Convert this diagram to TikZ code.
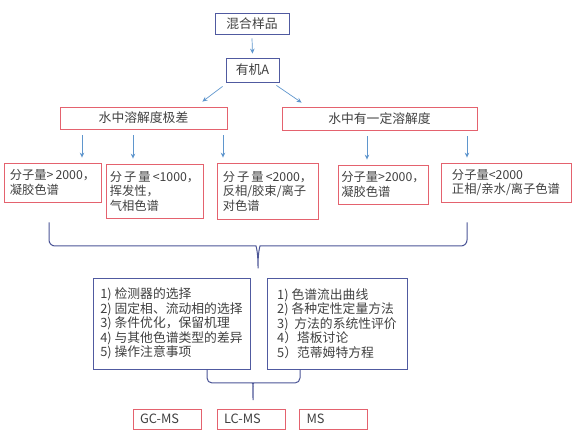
\documentclass[tikz,border=0pt]{standalone}
\usepackage{fontspec}
\newfontfamily\cjk{Noto Sans CJK SC}
\usetikzlibrary{arrows.meta}

\definecolor{boxblue}{RGB}{80,90,160}
\definecolor{boxred}{RGB}{228,98,110}
\definecolor{arrowblue}{RGB}{95,150,205}
\definecolor{bracecol}{RGB}{75,85,150}
\definecolor{txtgray}{RGB}{64,64,64}

\tikzset{
  basebox/.style={draw, line width=0.8pt, text=txtgray, inner sep=0pt, align=left,
    font=\cjk\fontsize{12.8}{14.5}\selectfont},
  bluebox/.style={basebox, draw=boxblue},
  redbox/.style={basebox, draw=boxred},
  smallred/.style={redbox, font=\cjk\fontsize{12.3}{14.5}\selectfont},
  boxsize/.style 2 args={minimum width=#1pt, minimum height=#2pt},
  tagbox/.style={redbox, text width=54pt, inner xsep=7pt, minimum height=20pt},
  flow/.style={-{Stealth[length=5pt,width=4.5pt]}, draw=arrowblue, line width=0.7pt},
  brace/.style={draw=bracecol, line width=1pt},
}

\begin{document}
\begin{tikzpicture}[x=1pt,y=-1pt]
\useasboundingbox (0,0) rectangle (582,438);

% Top of the tree
\node[bluebox, boxsize={74}{21}] (mix) at (252,23.5) {混合样品};
\node[bluebox, boxsize={53}{24}] (orgA) at (252.5,70) {有机A};
\node[redbox, boxsize={167}{22}] (poor) at (143.5,118) {水中溶解度极差};
\node[redbox, boxsize={195}{23}] (some) at (379.5,118.5) {水中有一定溶解度};

\draw[flow] ([yshift=-4pt]mix.south) -- ([yshift=4pt]orgA.north);
\draw[flow] ([shift={(-3pt,-4pt)}]orgA.south west) -- ([shift={(-25pt,5pt)}]poor.north east);
\draw[flow] ([shift={(-3pt,-3pt)}]orgA.south east) -- ([shift={(20pt,4pt)}]some.north west);

% Methods by molecular weight
\node[smallred, boxsize={97}{39}] (a) at (52.5,182.5) {分子量>\,2000，\\凝胶色谱};
\node[smallred, boxsize={97}{54}] (b) at (154.5,191) {分\,子\,量\,<1000，\\挥发性，\\气相色谱};
\node[smallred, boxsize={101}{56}] (c) at (267.5,191) {分\,子\,量\,<2000，\\反相/胶束/离子\\对色谱};
\node[smallred, boxsize={90}{39}] (d) at (383,184.5) {分子量>2000，\\凝胶色谱};
\node[smallred, boxsize={130}{39}] (e) at (506,182.5) {分子量<2000\\正相/亲水/离子色谱};

\foreach \src/\dst/\x in {poor/a/82, poor/b/133, poor/c/223, some/d/367, some/e/467}
  \draw[flow] ([yshift=-6pt]\src.south -| \x,0) -- ([yshift=5pt]\dst.north -| \x,0);

% Common topics
\node[bluebox, boxsize={157}{91}] (L) at (171.5,323.5)
  {1) 检测器的选择\\2) 固定相、流动相的选择\\3) 条件优化，保留机理\\4) 与其他色谱类型的差异\\5) 操作注意事项};
\node[bluebox, boxsize={140}{91}] (R) at (337,323.5)
  {1) 色谱流出曲线\\2) 各种定性定量方法\\3)\ \ 方法的系统性评价\\4）塔板讨论\\5）范蒂姆特方程};

\draw[brace, rounded corners=6pt] ([yshift=-20pt]a.south -| 49,0) -- (49,246) -- (250,246)
  .. controls (256,246) and (258,252) .. (258,272)
  .. controls (258,252) and (260,246) .. (266,246) -- (467,246) -- ([yshift=-20pt]e.south -| 467,0);

% Hyphenated techniques
\node[tagbox] (gc) at (167,419) {GC-MS};
\node[tagbox] (lc) at (251,419) {LC-MS};
\node[tagbox] (ms) at (333.5,419) {MS};

\draw[brace, rounded corners=5pt] (L.south -| 207,0) -- (207,383) -- (249,383)
  .. controls (252,383) and (253,387) .. (253,403)
  .. controls (253,387) and (254,383) .. (257,383) -- (300,383) -- (R.south -| 300,0);

\end{tikzpicture}
\end{document}
